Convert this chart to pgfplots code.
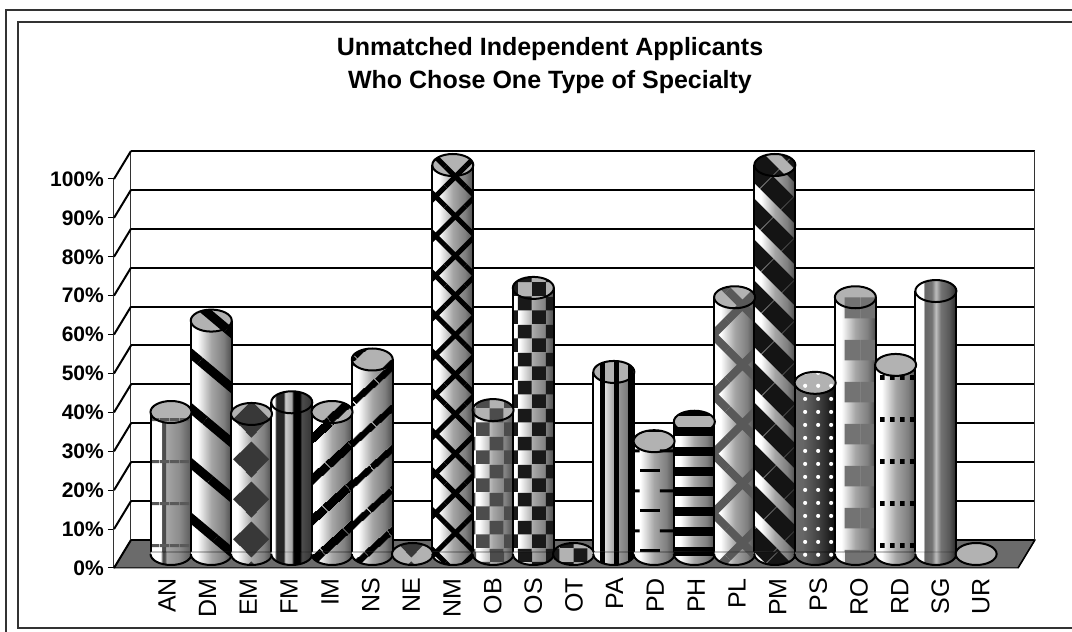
\documentclass[border=0pt]{standalone}
\usepackage{fontspec}
\setmainfont{Liberation Sans}
\usepackage{pgfplots}
\pgfplotsset{compat=1.18}
\usetikzlibrary{patterns,patterns.meta}

% body shadings, visible part runs from 25bp to 75bp
\pgfdeclarehorizontalshading{cylA}{100bp}{color(0bp)=(white); color(33bp)=(white); color(50bp)=(black!35); color(65bp)=(black!50); color(75bp)=(black!70); color(100bp)=(black!70)}
\pgfdeclarehorizontalshading{cylDark}{100bp}{color(0bp)=(black!55); color(35bp)=(black!60); color(55bp)=(black!75); color(75bp)=(black!95); color(100bp)=(black)}
\pgfdeclarehorizontalshading{cylAN}{100bp}{color(0bp)=(white); color(38bp)=(white); color(39bp)=(black!70); color(43bp)=(black!70); color(44bp)=(black!35); color(60bp)=(black!45); color(75bp)=(black!65); color(100bp)=(black!65)}
\pgfdeclarehorizontalshading{cylFM}{100bp}{color(0bp)=(white); color(29bp)=(white); color(31bp)=(black!85); color(40bp)=(black!85); color(42bp)=(black!20); color(50bp)=(black!35); color(52bp)=(black); color(60bp)=(black); color(62bp)=(black!70); color(75bp)=(black!80); color(100bp)=(black!80)}
\pgfdeclarehorizontalshading{cylSG}{100bp}{color(0bp)=(white); color(35bp)=(white); color(36bp)=(black!60); color(45bp)=(black!55); color(50bp)=(black!25); color(56bp)=(black!55); color(66bp)=(black!65); color(75bp)=(black!85); color(100bp)=(black!85)}

\pgfdeclarepatternformonly{checkS}{\pgfqpoint{0pt}{0pt}}{\pgfqpoint{28pt}{28pt}}{\pgfqpoint{28pt}{28pt}}{%
  \pgfpathrectangle{\pgfpoint{0pt}{0pt}}{\pgfpoint{14pt}{14pt}}%
  \pgfpathrectangle{\pgfpoint{14pt}{14pt}}{\pgfpoint{14pt}{14pt}}%
  \pgfusepath{fill}}
\pgfdeclarepatternformonly{dashes}{\pgfqpoint{0pt}{0pt}}{\pgfqpoint{40pt}{40pt}}{\pgfqpoint{40pt}{40pt}}{%
  \pgfpathrectangle{\pgfpoint{0pt}{0pt}}{\pgfpoint{20pt}{3pt}}%
  \pgfpathrectangle{\pgfpoint{20pt}{20pt}}{\pgfpoint{20pt}{3pt}}%
  \pgfusepath{fill}}
\pgfdeclarepatternformonly{dotrows}{\pgfqpoint{0pt}{0pt}}{\pgfqpoint{10pt}{42pt}}{\pgfqpoint{10pt}{42pt}}{%
  \pgfpathrectangle{\pgfpoint{0pt}{0pt}}{\pgfpoint{5pt}{5pt}}%
  \pgfusepath{fill}}
\pgfdeclarepatternformonly{rowsAN}{\pgfqpoint{0pt}{0pt}}{\pgfqpoint{10pt}{42pt}}{\pgfqpoint{10pt}{42pt}}{%
  \pgfpathrectangle{\pgfpoint{0pt}{1pt}}{\pgfpoint{10pt}{3pt}}%
  \pgfusepath{fill}}
\pgfdeclarepatternformonly{bandRO}{\pgfqpoint{0pt}{0pt}}{\pgfqpoint{41pt}{42pt}}{\pgfqpoint{41pt}{42pt}}{%
  \pgfpathrectangle{\pgfpoint{25pt}{20pt}}{\pgfpoint{16pt}{21pt}}%
  \pgfpathrectangle{\pgfpoint{0pt}{20pt}}{\pgfpoint{15pt}{21pt}}%
  \pgfusepath{fill}}
\pgfdeclarepatternformonly{diamondEM}{\pgfqpoint{0pt}{0pt}}{\pgfqpoint{40pt}{40pt}}{\pgfqpoint{40pt}{40pt}}{%
  \pgfpathmoveto{\pgfpoint{-6.5pt}{13pt}}\pgfpathlineto{\pgfpoint{11.5pt}{31pt}}\pgfpathlineto{\pgfpoint{29.5pt}{13pt}}\pgfpathlineto{\pgfpoint{11.5pt}{-5pt}}\pgfpathclose
  \pgfpathmoveto{\pgfpoint{33.5pt}{13pt}}\pgfpathlineto{\pgfpoint{51.5pt}{31pt}}\pgfpathlineto{\pgfpoint{69.5pt}{13pt}}\pgfpathlineto{\pgfpoint{51.5pt}{-5pt}}\pgfpathclose
  \pgfpathmoveto{\pgfpoint{-6.5pt}{53pt}}\pgfpathlineto{\pgfpoint{11.5pt}{71pt}}\pgfpathlineto{\pgfpoint{29.5pt}{53pt}}\pgfpathlineto{\pgfpoint{11.5pt}{35pt}}\pgfpathclose
  \pgfusepath{fill}}

\tikzset{
  pNone/.style={},
  pAN/.style={postaction={pattern=rowsAN,pattern color=black!65}},
  pDM/.style={postaction={pattern={Lines[angle=-40,distance=42pt,line width=9pt]},pattern color=black}},
  pEM/.style={postaction={pattern=diamondEM,pattern color=black!78}},
  pFM/.style={shading=cylFM},
  pIM/.style={postaction={pattern={Lines[angle=42,distance=31pt,line width=9pt]},pattern color=black}},
  pNS/.style={postaction={pattern={Lines[angle=42,distance=31pt,line width=7pt]},pattern color=black}},
  pNM/.style={postaction={pattern={Hatch[angle=45,distance=28pt,line width=5pt]},pattern color=black}},
  pOB/.style={postaction={pattern=checkS,pattern color=black!70}},
  pOS/.style={postaction={pattern=checkS,pattern color=black!90}},
  pPA/.style={postaction={pattern={Lines[angle=90,distance=14pt,line width=5pt]},pattern color=black}},
  pPD/.style={postaction={pattern=dashes,pattern color=black}},
  pPH/.style={postaction={pattern={Lines[angle=0,distance=20pt,line width=9pt]},pattern color=black}},
  pPL/.style={postaction={pattern={Hatch[angle=45,distance=42pt,line width=8pt]},pattern color=black!65}},
  pPM/.style={postaction={pattern={Lines[angle=-45,distance=30pt,line width=19pt]},pattern color=black!92}},
  pPS/.style={postaction={pattern={Dots[distance=13pt,radius=2.2pt]},pattern color=white}},
  pRO/.style={postaction={pattern=bandRO,pattern color=black!55}},
  pRD/.style={postaction={pattern=dotrows,pattern color=black}},
  pSG/.style={shading=cylSG},
}

% cylinder ends as plot marks, the look comes from the plot's cylbody and cylpat styles
\pgfdeclareplotmark{cyltop}{%
  \path[rotate=4,fill=black!30,cylpat]
    (0pt,0pt) ellipse[x radius=20.5pt,y radius=11pt];
  \draw[rotate=4,line width=2pt,black]
    (0pt,0pt) ellipse[x radius=20.5pt,y radius=11pt];
}
\pgfdeclareplotmark{cylbase}{%
  % laid over the body's foot, 2pt into it, so that no seam shows
  \path[cylbody,cylpat]
    (-20.5pt,0pt) arc[start angle=180,end angle=360,x radius=20.5pt,y radius=11pt]
    -- (20.5pt,2pt) -- (-20.5pt,2pt) -- cycle;
  \draw[line width=2pt,black]
    (-20.5pt,0pt) arc[start angle=180,end angle=360,x radius=20.5pt,y radius=11pt];
}

% #1 position, #2 percent, #3 shading, #4 pattern style
% a 0% cylinder is only its ellipse: a shading of no height would smear over the chart
\newcommand{\cyl}[4]{%
  \ifdim #2pt>0pt
  \addplot[ybar,bar width=41pt,bar shift=0pt,draw=none,yshift=14pt,shading=#3,mark=none] coordinates {(#1,#2)};
  \addplot[ybar,bar width=41pt,bar shift=0pt,draw=none,fill=none,yshift=14pt,#4,mark=none] coordinates {(#1,#2)};
  \addplot[only marks,mark=cylbase,yshift=14pt,
    cylbody/.style={shading=#3},cylpat/.style={#4}] coordinates {(#1,0)};
  \addplot[ycomb,line width=2pt,black,xshift=-20.5pt,yshift=14pt,mark=none] coordinates {(#1,#2)};
  \addplot[ycomb,line width=2pt,black,xshift=20.5pt,yshift=14pt,mark=none] coordinates {(#1,#2)};
  \fi
  \addplot[only marks,mark=cyltop,yshift=14pt,cylpat/.style={#4}] coordinates {(#1,#2)};
}

\begin{document}
\begin{tikzpicture}[x=1pt,y=1pt]
  \path[use as bounding box] (0,0) rectangle (1072,632);
  % double frame, open to the right
  \draw[line width=1.3pt,black!80] (1072,622) -- (6,622) -- (6,0);
  \draw[line width=1.3pt,black!80] (1072,610) -- (18,610) -- (18,4) -- (1072,4);
  \node[font=\bfseries\fontsize{25}{33}\selectfont,align=center,anchor=center] at (550,566)
    {Unmatched Independent Applicants\\Who Chose One Type of Specialty};

  \begin{axis}[
    at={(114pt,64pt)},
    anchor=south west,
    scale only axis,
    width=904pt,
    height=389pt,
    xmin=-1.416, xmax=21.04,
    ymin=0, ymax=100,
    clip=false,
    axis x line*=bottom,
    axis y line*=left,
    axis line style={line width=1pt,black!80},
    ytick={0,10,...,100},
    yticklabel={\pgfmathprintnumber{\tick}\%},
    /pgf/number format/assume math mode=true,
    yticklabel style={font=\bfseries\fontsize{21}{21}\selectfont,inner sep=0pt,xshift=-4pt},
    y tick style={line width=1pt,black},
    tick align=outside,
    major tick length=6pt,
    xtick={-0.10,0.91,1.92,2.93,3.95,4.96,5.97,6.98,7.99,9.00,10.01,11.02,12.03,13.05,14.06,15.07,16.08,17.09,18.10,19.11,20.12},
    xticklabels={AN,DM,EM,FM,IM,NS,NE,NM,OB,OS,OT,PA,PD,PH,PL,PM,PS,RO,RD,SG,UR},
    x tick style={draw=none},
    xticklabel style={font=\fontsize{25}{25}\selectfont,rotate=90,anchor=east,inner sep=0pt,xshift=-4pt},
  ]
    % floor
    \addplot[draw=black,line width=1pt,fill=black!58] coordinates {(-1.416,0) (21.04,0) (21.46,7.2) (-0.994,7.2)} -- cycle;
    % back wall: gridlines, side edges and the connectors to the y axis
    \addplot[black,line width=2pt] coordinates {(-0.994,7.2) (21.46,7.2)};
    \addplot[black,line width=2pt] coordinates {(-0.994,17.2) (21.46,17.2)};
    \addplot[black,line width=2pt] coordinates {(-0.994,27.2) (21.46,27.2)};
    \addplot[black,line width=2pt] coordinates {(-0.994,37.2) (21.46,37.2)};
    \addplot[black,line width=2pt] coordinates {(-0.994,47.2) (21.46,47.2)};
    \addplot[black,line width=2pt] coordinates {(-0.994,57.2) (21.46,57.2)};
    \addplot[black,line width=2pt] coordinates {(-0.994,67.2) (21.46,67.2)};
    \addplot[black,line width=2pt] coordinates {(-0.994,77.2) (21.46,77.2)};
    \addplot[black,line width=2pt] coordinates {(-0.994,87.2) (21.46,87.2)};
    \addplot[black,line width=2pt] coordinates {(-0.994,97.2) (21.46,97.2)};
    \addplot[black,line width=2pt] coordinates {(-0.994,107.2) (21.46,107.2)};
    \addplot[black!80,line width=1pt] coordinates {(-0.994,7.2) (-0.994,107.2)};
    \addplot[black!80,line width=1pt] coordinates {(21.46,7.2) (21.46,107.2)};
    \addplot[black,line width=1.5pt] coordinates {(21.04,0) (21.46,7.2)};
    \addplot[black,line width=2pt] coordinates {(-1.416,0) (-0.994,7.2)};
    \addplot[black,line width=2pt] coordinates {(-1.416,10) (-0.994,17.2)};
    \addplot[black,line width=2pt] coordinates {(-1.416,20) (-0.994,27.2)};
    \addplot[black,line width=2pt] coordinates {(-1.416,30) (-0.994,37.2)};
    \addplot[black,line width=2pt] coordinates {(-1.416,40) (-0.994,47.2)};
    \addplot[black,line width=2pt] coordinates {(-1.416,50) (-0.994,57.2)};
    \addplot[black,line width=2pt] coordinates {(-1.416,60) (-0.994,67.2)};
    \addplot[black,line width=2pt] coordinates {(-1.416,70) (-0.994,77.2)};
    \addplot[black,line width=2pt] coordinates {(-1.416,80) (-0.994,87.2)};
    \addplot[black,line width=2pt] coordinates {(-1.416,90) (-0.994,97.2)};
    \addplot[black,line width=2pt] coordinates {(-1.416,100) (-0.994,107.2)};

    \cyl{0}{36.5}{cylAN}{pAN}
    \cyl{1}{60}{cylA}{pDM}
    \cyl{2}{36}{cylA}{pEM}
    \cyl{3}{39}{cylFM}{pFM}
    \cyl{4}{36.5}{cylA}{pIM}
    \cyl{5}{50}{cylA}{pNS}
    \cyl{6}{0}{cylA}{pEM}
    \cyl{7}{100}{cylA}{pNM}
    \cyl{8}{37}{cylA}{pOB}
    \cyl{9}{68.4}{cylA}{pOS}
    \cyl{10}{0}{cylA}{pOS}
    \cyl{11}{46.8}{cylA}{pPA}
    \cyl{12}{29}{cylA}{pPD}
    \cyl{13}{34}{cylA}{pPH}
    \cyl{14}{66}{cylA}{pPL}
    \cyl{15}{100}{cylA}{pPM}
    \cyl{16}{44}{cylDark}{pPS}
    \cyl{17}{66}{cylA}{pRO}
    \cyl{18}{48.6}{cylA}{pRD}
    \cyl{19}{67.6}{cylSG}{pSG}
    \cyl{20}{0}{cylA}{pNone}
  \end{axis}
\end{tikzpicture}
\end{document}
